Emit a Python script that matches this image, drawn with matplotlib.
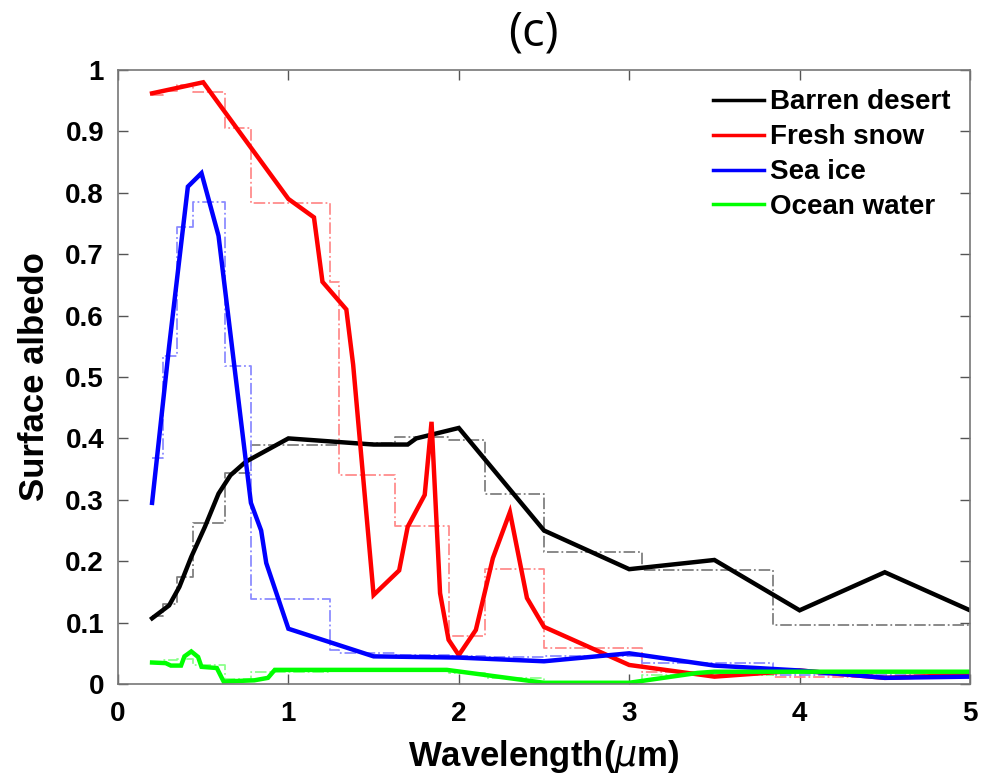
import matplotlib
matplotlib.use("Agg")
import matplotlib.pyplot as plt

# ---- data ----
wl_desert = [0.2, 0.3, 0.36, 0.43, 0.51, 0.59, 0.66, 0.75, 1.0, 1.5, 1.7, 1.75, 2.0, 2.5, 3.0, 3.5, 4.0, 4.5, 5.0]
desert = [0.107, 0.128, 0.158, 0.207, 0.256, 0.31, 0.34, 0.362, 0.40, 0.39, 0.39, 0.40, 0.417, 0.25, 0.187, 0.202, 0.12, 0.182, 0.12]

wl_snow = [0.2, 0.5, 1.0, 1.15, 1.2, 1.34, 1.38, 1.5, 1.65, 1.7, 1.8, 1.84, 1.89, 1.94, 2.0, 2.1, 2.2, 2.3, 2.4, 2.5, 3.0, 3.5, 4.0, 4.5, 5.0]
snow = [0.962, 0.98, 0.79, 0.76, 0.655, 0.61, 0.52, 0.145, 0.185, 0.256, 0.308, 0.427, 0.148, 0.072, 0.047, 0.088, 0.205, 0.28, 0.14, 0.093, 0.031, 0.012, 0.022, 0.01, 0.015]

wl_ice = [0.2, 0.3, 0.41, 0.49, 0.59, 0.78, 0.84, 0.87, 1.0, 1.5, 2.0, 2.5, 3.0, 3.5, 4.0, 4.5, 5.0]
ice = [0.295, 0.55, 0.81, 0.832, 0.73, 0.295, 0.25, 0.197, 0.09, 0.045, 0.043, 0.037, 0.05, 0.03, 0.022, 0.01, 0.012]

wl_ocean = [0.2, 0.28, 0.31, 0.37, 0.39, 0.43, 0.47, 0.49, 0.58, 0.62, 0.80, 0.88, 0.92, 1.93, 2.5, 3.0, 3.4, 3.5, 4.0, 5.0]
ocean = [0.035, 0.034, 0.03, 0.03, 0.045, 0.053, 0.044, 0.028, 0.026, 0.004, 0.006, 0.01, 0.023, 0.023, 0.002, 0.002, 0.018, 0.02, 0.02, 0.02]

band_edges = [0.2, 0.263, 0.345, 0.442, 0.625, 0.778, 1.242, 1.299, 1.626, 1.942, 2.151, 2.5, 3.077, 3.846, 12.195]
desert_band = [0.11, 0.13, 0.175, 0.262, 0.343, 0.39, 0.39, 0.392, 0.402, 0.397, 0.31, 0.215, 0.186, 0.096]
snow_band = [0.96, 0.965, 0.976, 0.964, 0.905, 0.783, 0.655, 0.34, 0.257, 0.078, 0.187, 0.058, 0.019, 0.011]
ice_band = [0.368, 0.535, 0.745, 0.785, 0.518, 0.138, 0.055, 0.05, 0.047, 0.045, 0.044, 0.045, 0.034, 0.015]
ocean_band = [0.035, 0.039, 0.04, 0.031, 0.008, 0.02, 0.024, 0.024, 0.023, 0.018, 0.01, 0.002, 0.015, 0.02]

labels = ["Barren desert", "Fresh snow", "Sea ice", "Ocean water"]
xticks = [0, 1, 2, 3, 4, 5]
yticks = [0, 0.1, 0.2, 0.3, 0.4, 0.5, 0.6, 0.7, 0.8, 0.9, 1]
ytick_labels = ["0", "0.1", "0.2", "0.3", "0.4", "0.5", "0.6", "0.7", "0.8", "0.9", "1"]

# ---- plot ----
plt.rcParams['font.family'] = ['Liberation Sans', 'DejaVu Sans']
fig = plt.figure(figsize=(9.91, 7.79), dpi=100)
ax = fig.add_axes([118/991, 1-684/779, (970-118)/991, (684-70)/779])

solid_cols = ['#000000', '#ff0000', '#0000ff', '#00ff00']
step_cols = ['#808080', '#ff8c8c', '#8c8cff', '#8cff8c']
bands = [desert_band, snow_band, ice_band, ocean_band]
series = [(wl_desert, desert), (wl_snow, snow), (wl_ice, ice), (wl_ocean, ocean)]

for b, c in zip(bands, step_cols):
    ax.step(band_edges, b + [b[-1]], where='post', color=c, lw=1.3, ls='-.')

for (x, y), c, lab in zip(series, solid_cols, labels):
    ax.plot(x, y, color=c, lw=3.2, label=lab, solid_joinstyle='miter')

ax.set_xlim(0, 5)
ax.set_ylim(0, 1)
ax.set_xticks(xticks)
ax.set_xticklabels([str(t) for t in xticks])
ax.set_yticks(yticks)
ax.set_yticklabels(ytick_labels)
ax.tick_params(direction='in', top=True, right=True, length=7, width=1,
               color='#555555', labelsize=20)
ax.tick_params(axis='x', pad=12)
ax.tick_params(axis='y', pad=10)
for lab in ax.get_xticklabels() + ax.get_yticklabels():
    lab.set_fontweight('bold')
for s in ax.spines.values():
    s.set_color('#777777')
    s.set_linewidth(1.2)

ax.set_xlabel('Wavelength($\\mu$m)', fontsize=25, fontweight='bold', labelpad=8)
ax.set_ylabel('Surface albedo', fontsize=25, fontweight='bold', labelpad=10)
fig.text(533/991, 1-33/779, '(c)', fontsize=34, family='Open Sans',
         ha='center', va='center')

leg = ax.legend(loc='upper right', frameon=False, prop={'size': 20, 'weight': 'bold'},
                handlelength=1.85, handletextpad=0.2, labelspacing=0.32,
                borderaxespad=0.3)
for h in leg.get_lines():
    h.set_linewidth(2.5)

fig.savefig('out.png', dpi=100)
